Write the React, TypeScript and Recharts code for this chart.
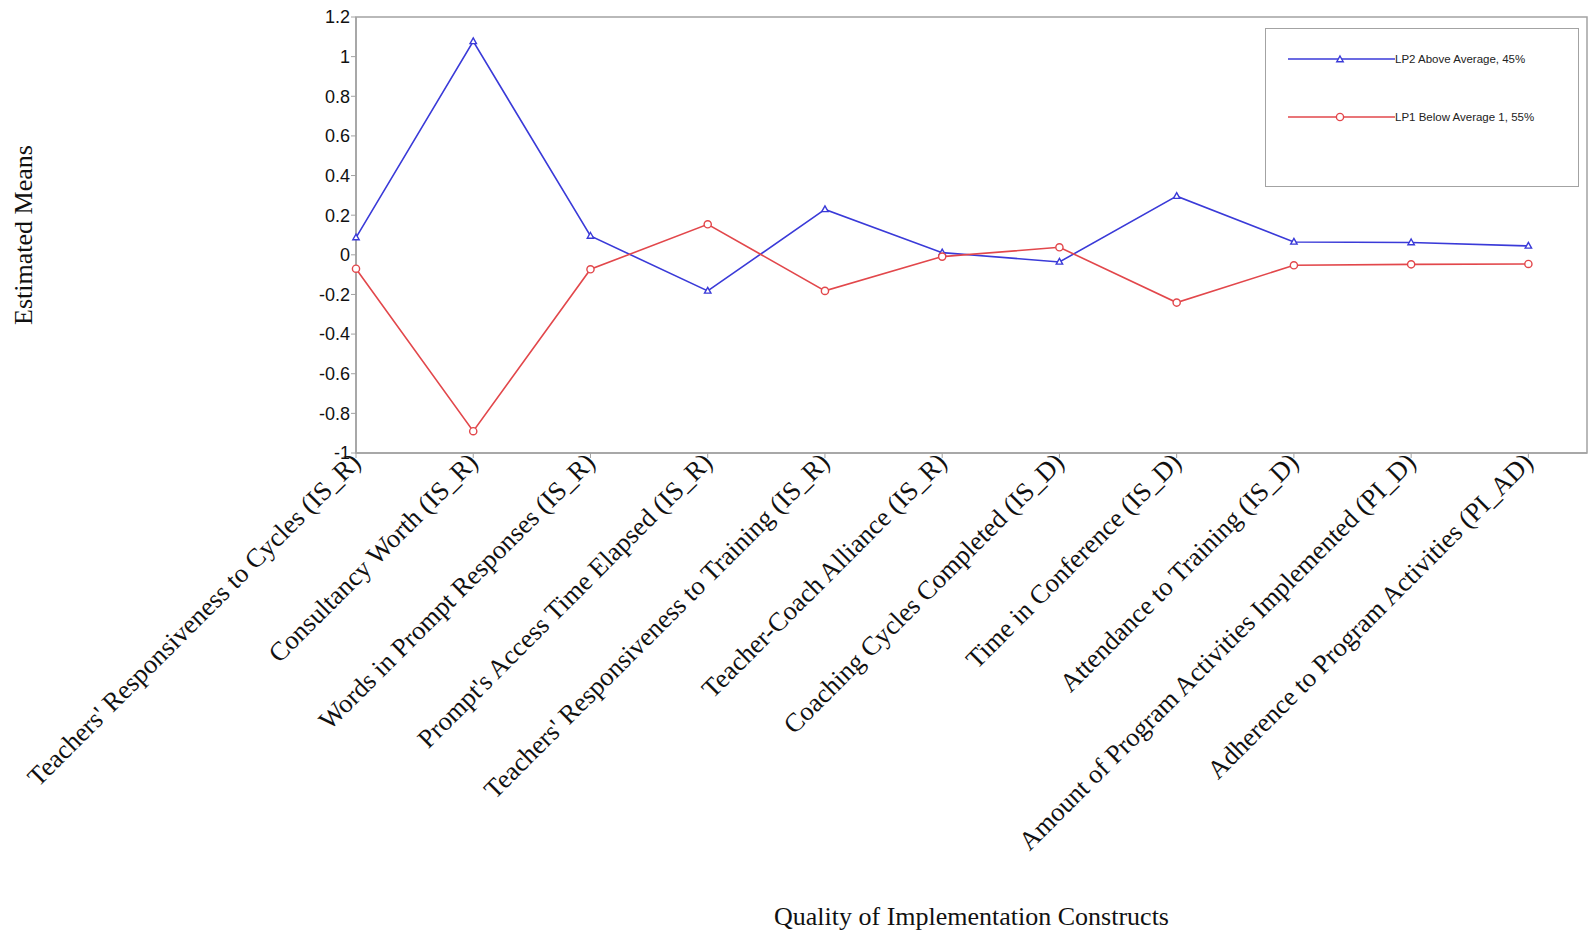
import {
  LineChart,
  Line,
  XAxis,
  YAxis,
  Legend,
  ReferenceArea,
  Label,
} from "recharts";

const categories = [
  "Teachers' Responsiveness to Cycles (IS_R)",
  "Consultancy Worth (IS_R)",
  "Words in Prompt Responses (IS_R)",
  "Prompt's Access Time Elapsed (IS_R)",
  "Teachers' Responsiveness to Training (IS_R)",
  "Teacher-Coach Alliance (IS_R)",
  "Coaching Cycles Completed (IS_D)",
  "Time in Conference (IS_D)",
  "Attendance to Training (IS_D)",
  "Amount of Program Activities Implemented (PI_D)",
  "Adherence to Program Activities (PI_AD)",
];

const lp2Above = [0.087, 1.077, 0.095, -0.182, 0.229, 0.011, -0.036, 0.296, 0.065, 0.062, 0.045];
const lp1Below = [-0.07, -0.89, -0.073, 0.154, -0.182, -0.009, 0.038, -0.241, -0.053, -0.048, -0.046];

const yTicks = [-1, -0.8, -0.6, -0.4, -0.2, 0, 0.2, 0.4, 0.6, 0.8, 1, 1.2];
const xTicks = categories.map((_, i) => i);
const legendOrder = ["lp2", "lp1"];

const data = categories.map((name, i) => ({
  idx: i,
  name,
  lp2: lp2Above[i],
  lp1: lp1Below[i],
}));

const BLUE = "#3a3ad8";
const RED = "#e2474b";
const AXIS = "#a3a3a3";
const SERIF = "'Liberation Serif', 'Times New Roman', serif";
const SANS = "'Liberation Sans', Arial, sans-serif";

function Triangle({ cx, cy, stroke }: any) {
  if (cx == null || cy == null) return null;
  return (
    <path
      d={`M${cx},${cy - 3.5} L${cx + 3.2},${cy + 2.2} L${cx - 3.2},${cy + 2.2} Z`}
      fill="#fff"
      stroke={stroke}
      strokeWidth={1.4}
    />
  );
}

function Circle({ cx, cy, stroke }: any) {
  if (cx == null || cy == null) return null;
  return <circle cx={cx} cy={cy} r={3.6} fill="#fff" stroke={stroke} strokeWidth={1.4} />;
}

function CategoryTick({ x, y, payload }: any) {
  const label = categories[payload.value] ?? "";
  return (
    <g transform={`translate(${x + 6},${y + 4})`}>
      <text
        transform="rotate(-45)"
        textAnchor="end"
        fontFamily={SERIF}
        fontSize={26.5}
        fill="#111"
      >
        {label}
      </text>
    </g>
  );
}

function LegendBox({ payload }: any) {
  const items = [...(payload ?? [])].sort(
    (a: any, b: any) => legendOrder.indexOf(a.dataKey) - legendOrder.indexOf(b.dataKey)
  );
  return (
    <div
      style={{
        width: 314,
        height: 159,
        boxSizing: "border-box",
        border: `1px solid ${AXIS}`,
        background: "#fff",
        position: "relative",
      }}
    >
      {items.map((entry: any, i: number) => {
        const top = 30 + i * 58;
        const isTri = entry.dataKey === "lp2";
        return (
          <div
            key={entry.value}
            style={{ position: "absolute", left: 22, top: top - 8, height: 16, display: "flex", alignItems: "center" }}
          >
            <svg width={107} height={16} style={{ display: "block" }}>
              <line x1={0} y1={8} x2={107} y2={8} stroke={entry.color} strokeWidth={1.5} />
              {isTri ? (
                <Triangle cx={52} cy={8.5} stroke={entry.color} />
              ) : (
                <Circle cx={52} cy={8} stroke={entry.color} />
              )}
            </svg>
            <span style={{ fontFamily: SANS, fontSize: 11.5, color: "#222", whiteSpace: "nowrap" }}>
              {entry.value}
            </span>
          </div>
        );
      })}
    </div>
  );
}

export default function App() {
  return (
    <div style={{ position: "absolute", left: 0, top: 0, width: 1595, height: 944, background: "#fff" }}>
      <LineChart width={1595} height={944} data={data} margin={{ top: 17, right: 8, bottom: 0, left: 0 }}>
        <ReferenceArea x1={0} x2={10.5} y1={-1} y2={1.2} fill="none" stroke={AXIS} strokeWidth={1.5} />
        <XAxis
          dataKey="idx"
          type="number"
          domain={[0, 10.5]}
          ticks={xTicks}
          interval={0}
          height={491}
          tick={<CategoryTick />}
          tickSize={5}
          stroke={AXIS}
          axisLine={{ stroke: AXIS, strokeWidth: 1.5 }}
          tickLine={{ stroke: AXIS }}
        >
          <Label
            value="Quality of Implementation Constructs"
            position="insideBottom"
            offset={19}
            style={{ fontFamily: SERIF, fontSize: 26, fill: "#111" }}
          />
        </XAxis>
        <YAxis
          type="number"
          domain={[-1, 1.2]}
          ticks={yTicks}
          interval={0}
          width={356}
          tickSize={5}
          tickMargin={1}
          stroke={AXIS}
          axisLine={{ stroke: AXIS, strokeWidth: 1.5 }}
          tickLine={{ stroke: AXIS }}
          tick={{ fill: "#111", fontFamily: SANS, fontSize: 18 }}
          tickFormatter={(v: number) => String(v)}
        >
          <Label
            content={({ viewBox }: any) => {
              const cy = viewBox.y + viewBox.height / 2;
              return (
                <text
                  x={23}
                  y={cy}
                  transform={`rotate(-90, 23, ${cy})`}
                  textAnchor="middle"
                  dominantBaseline="central"
                  fontFamily={SERIF}
                  fontSize={26}
                  fill="#111"
                >
                  Estimated Means
                </text>
              );
            }}
          />
        </YAxis>
        <Legend
          layout="vertical"
          align="center"
          verticalAlign="middle"
          content={<LegendBox />}
          wrapperStyle={{ left: 1265, top: 28, width: 314, height: 159 }}
        />
        <Line
          name="LP2 Above Average, 45%"
          dataKey="lp2"
          type="linear"
          stroke={BLUE}
          strokeWidth={1.6}
          dot={<Triangle stroke={BLUE} />}
          activeDot={false}
          isAnimationActive={false}
        />
        <Line
          name="LP1 Below Average 1, 55%"
          dataKey="lp1"
          type="linear"
          stroke={RED}
          strokeWidth={1.6}
          dot={<Circle stroke={RED} />}
          activeDot={false}
          isAnimationActive={false}
        />
      </LineChart>
    </div>
  );
}
